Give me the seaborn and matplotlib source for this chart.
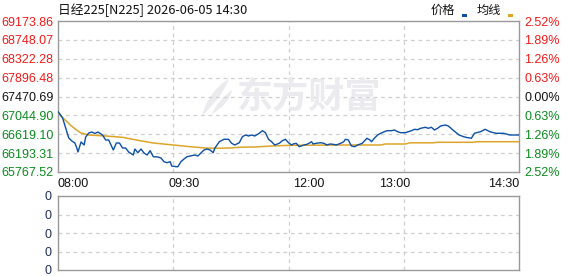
import matplotlib
matplotlib.use("Agg")
import matplotlib.pyplot as plt
import matplotlib.transforms as mtransforms
from matplotlib.patches import Rectangle, PathPatch
from matplotlib.path import Path
import pandas as pd
import seaborn as sns

# ---------------- data ----------------
title = "日经225[N225] 2026-06-05 14:30"
legend_labels = ["价格", "均线"]
watermark = "东方财富"

pre_close = 67470.69
y_ticks = [69173.86, 68748.07, 68322.28, 67896.48, 67470.69,
           67044.90, 66619.10, 66193.31, 65767.52]
pct_labels = ["2.52%", "1.89%", "1.26%", "0.63%", "0.00%",
              "0.63%", "1.26%", "1.89%", "2.52%"]
x_tick_pos = [0, 82, 163, 219, 300]
x_tick_labels = ["08:00", "09:30", "12:00", "13:00", "14:30"]
vol_ticks = [0, 1, 2, 3, 4]
vol_labels = ["0", "0", "0", "0", "0"]

times = [0, 3, 5, 7, 9, 11, 12, 13, 15, 17, 18, 20, 22, 24, 26, 27, 29, 31, 33, 36,
         38, 40, 42, 44, 46, 49, 50, 52, 54, 56, 58, 60, 62, 65, 67, 69, 71, 73, 74, 77,
         78, 80, 82, 84, 86, 89, 91, 93, 95, 97, 99, 101, 102, 105, 108, 111, 113, 115, 118, 120,
         122, 124, 126, 128, 131, 133, 135, 137, 139, 141, 144, 146, 148, 150, 152, 153, 155, 157, 160, 162,
         164, 165, 166, 168, 171, 173, 175, 177, 179, 181, 184, 186, 187, 189, 190, 191, 193, 195, 198, 200,
         201, 203, 204, 206, 208, 210, 214, 217, 219, 221, 223, 226, 228, 230, 232, 234, 236, 239, 241, 243,
         245, 247, 249, 252, 254, 257, 261, 264, 266, 269, 271, 275, 278, 281, 285, 290, 294, 300]
prices = [67132.4, 66985.8, 66760.2, 66534.6, 66466.9, 66421.8, 66331.6, 66218.8, 66444.4, 66376.7,
          66557.2, 66647.4, 66669.9, 66636.1, 66669.9, 66647.4, 66602.3, 66489.5, 66489.5, 66263.9,
          66421.8, 66421.8, 66309.0, 66309.0, 66218.8, 66151.1, 66286.5, 66203.0, 66286.5, 66196.2,
          66151.1, 66248.1, 66112.8, 66106.0, 66083.4, 65999.9, 65977.4, 65999.9, 65903.0, 65887.2,
          65887.2, 65999.9, 66060.9, 66112.8, 66128.6, 66151.1, 66128.6, 66196.2, 66263.9, 66286.5,
          66263.9, 66203.0, 66302.2, 66451.1, 66505.3, 66505.3, 66415.0, 66376.7, 66428.6, 66563.9,
          66602.3, 66579.7, 66602.3, 66579.7, 66640.7, 66699.3, 66654.2, 66505.3, 66451.1, 66376.7,
          66415.0, 66473.7, 66505.3, 66428.6, 66376.7, 66399.2, 66415.0, 66338.3, 66376.7, 66392.5,
          66428.6, 66451.1, 66399.2, 66415.0, 66428.6, 66415.0, 66376.7, 66399.2, 66392.5, 66376.7,
          66415.0, 66451.1, 66505.3, 66489.5, 66415.0, 66354.1, 66338.3, 66376.7, 66415.0, 66489.5,
          66527.8, 66489.5, 66451.1, 66534.6, 66602.3, 66640.7, 66699.3, 66699.3, 66715.1, 66676.7,
          66654.2, 66654.2, 66676.7, 66699.3, 66730.8, 66721.8, 66753.4, 66776.0, 66753.4, 66776.0,
          66715.1, 66753.4, 66805.3, 66827.8, 66805.3, 66715.1, 66602.3, 66563.9, 66545.9, 66527.8,
          66640.7, 66676.7, 66730.8, 66676.7, 66640.7, 66640.7, 66602.3, 66602.3]

avg_times = [0, 2, 5, 8, 12, 15, 20, 31, 42, 51, 62, 75, 86, 96, 102, 112, 118, 128, 139, 151,
             190, 210, 213, 226, 229, 244, 247, 270, 273, 300]
avg_prices = [67109.8, 67030.9, 66929.4, 66827.8, 66715.1, 66647.4, 66602.3, 66579.7, 66550.4, 66489.5,
              66421.8, 66376.7, 66338.3, 66309.0, 66302.2, 66309.0, 66324.9, 66331.6, 66354.1, 66369.9,
              66376.7, 66376.7, 66399.2, 66399.2, 66426.3, 66426.3, 66437.6, 66437.6, 66451.1, 66451.1]

assert len(times) == len(prices)
assert len(avg_times) == len(avg_prices)

# ---------------- style ----------------
BLUE = "#0b4fa6"
GOLD = "#dca52a"
RED = "#f01a1a"
GREEN = "#0a8a1e"
GRID = "#cfcfcf"
SPINE = "#999999"

sns.set_style("white")
plt.rcParams["font.family"] = ["Liberation Sans", "Noto Sans CJK SC", "DejaVu Sans"]

W, H = 578, 276
fig = plt.figure(figsize=(W / 100, H / 100), dpi=100)
fig.patch.set_facecolor("white")
# pixel (top-left origin) -> figure
pix = mtransforms.Affine2D().scale(1 / W, -1 / H).translate(0, 1) + fig.transFigure

L, R = 58, 519
ax = fig.add_axes([L / W, 1 - 172 / H, (R - L) / W, (172 - 21) / H])
axv = fig.add_axes([L / W, 1 - 270 / H, (R - L) / W, (270 - 196) / H])

# watermark
fig.text(309, 97, watermark, transform=pix, fontsize=26, fontweight="bold",
         family=["Noto Sans CJK SC"], color="#ebebef", ha="center", va="center", zorder=0)
verts = [(202, 116), (206, 100), (216, 86), (229, 79), (224, 92), (214, 104), (202, 116)]
codes = [Path.MOVETO, Path.CURVE4, Path.CURVE4, Path.CURVE4, Path.CURVE4, Path.CURVE4, Path.CURVE4]
fig.add_artist(PathPatch(Path(verts, codes), transform=pix, facecolor="#ebebef", edgecolor="none", zorder=0))
verts2 = [(212, 114), (216, 104), (224, 96), (232, 90), (230, 100), (222, 108), (212, 114)]
fig.add_artist(PathPatch(Path(verts2, codes), transform=pix, facecolor="#ebebef", edgecolor="none", zorder=0))

ax.patch.set_alpha(0)

df = pd.DataFrame({"t": times, "price": prices})
dfa = pd.DataFrame({"t": avg_times, "avg": avg_prices})
sns.lineplot(data=dfa, x="t", y="avg", ax=ax, color=GOLD, lw=1.1, estimator=None, zorder=3)
sns.lineplot(data=df, x="t", y="price", ax=ax, color=BLUE, lw=1.0, estimator=None, zorder=4)

ax.set_xlim(0, 300)
ax.set_ylim(y_ticks[-1], y_ticks[0])
ax.set_xlabel("")
ax.set_ylabel("")

dash = (0, (3, 3))
for v in y_ticks[1:-1]:
    ax.axhline(v, color=GRID, lw=0.9, ls=dash, zorder=1)
for xv in [75, 150, 225]:
    ax.axvline(xv, color=GRID, lw=0.9, ls=dash, zorder=1)
    axv.axvline(xv, color=GRID, lw=0.9, ls=dash, zorder=1)
for v in vol_ticks[1:-1]:
    axv.axhline(v, color=GRID, lw=0.9, ls=dash, zorder=1)

def label_color(i, n):
    mid = n // 2
    if i < mid:
        return RED
    if i == mid:
        return "#111111"
    return GREEN

ax.set_yticks(y_ticks)
ax.set_yticklabels([f"{v:.2f}" for v in y_ticks], fontsize=9)
for i, t in enumerate(ax.get_yticklabels()):
    t.set_color(label_color(i, len(y_ticks)))
ax.tick_params(axis="y", length=0, pad=3)

ax2 = ax.twinx()
ax2.set_ylim(ax.get_ylim())
ax2.set_yticks(y_ticks)
ax2.set_yticklabels(pct_labels, fontsize=9)
for i, t in enumerate(ax2.get_yticklabels()):
    t.set_color(label_color(i, len(y_ticks)))
ax2.tick_params(axis="y", length=0, pad=4)
for s in ax2.spines.values():
    s.set_visible(False)

ax.set_xticks(x_tick_pos)
ax.set_xticklabels(x_tick_labels, fontsize=9, color="#111111")
ax.tick_params(axis="x", length=0, pad=4)
xl = ax.get_xticklabels()
xl[0].set_ha("left")
xl[-1].set_ha("right")

axv.set_xlim(0, 300)
axv.set_ylim(vol_ticks[0], vol_ticks[-1])
axv.set_yticks(vol_ticks)
axv.set_yticklabels(vol_labels[::-1], fontsize=9, color="#1f2d5c")
axv.tick_params(axis="y", length=0, pad=5)
axv.set_xticks([])

for a in (ax, axv):
    for s in a.spines.values():
        s.set_visible(True)
        s.set_color(SPINE)
        s.set_linewidth(1.0)

# title and legend
fig.text(58, 10, title, transform=pix, fontsize=9.2, family=["Noto Sans CJK SC", "DejaVu Sans"],
         color="#111111", ha="left", va="center")
fig.text(443, 10, legend_labels[0], transform=pix, fontsize=8.8, family=["Noto Sans CJK SC"],
         color="#111111", ha="center", va="center")
fig.add_artist(Rectangle((462, 14), 5, 3, transform=pix, facecolor=BLUE, edgecolor="none"))
fig.text(489, 10, legend_labels[1], transform=pix, fontsize=8.8, family=["Noto Sans CJK SC"],
         color="#111111", ha="center", va="center")
fig.add_artist(Rectangle((508, 14), 5, 3, transform=pix, facecolor=GOLD, edgecolor="none"))

fig.savefig("out.png", dpi=100)
